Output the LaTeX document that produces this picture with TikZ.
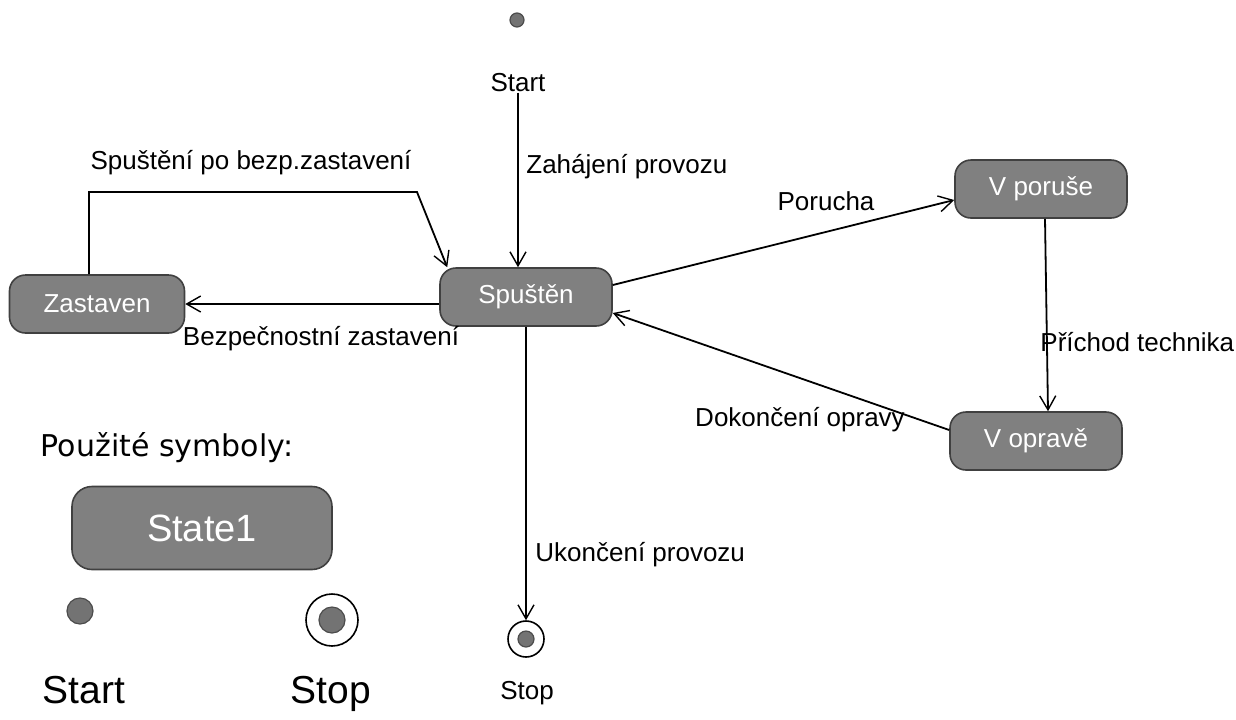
\documentclass[tikz,border=0pt]{standalone}
\usepackage{fontspec}
\setmainfont{Liberation Sans}
\newfontfamily\legendfont{DejaVu Sans}
\usetikzlibrary{arrows.meta}
\begin{document}
\begin{tikzpicture}[x=0.5pt,y=-0.5pt,
  state/.style={draw=black!75, line width=0.8pt, fill=black!50, rounded corners=8pt,
    text=white, font=\fontsize{13}{15}\selectfont, minimum width=86pt,
    minimum height=29pt, inner sep=0pt},
  arr/.style={draw, line width=0.9pt, -{Straight Barb[length=7pt,width=8pt,line width=0.7pt]}},
  lbl/.style={font=\fontsize{13}{15}\selectfont, inner sep=0pt},
  dot/.style={circle, draw=black!70, line width=0.6pt, fill=black!55, inner sep=0pt, minimum size=#1},
  ring/.style={circle, draw=black, line width=0.8pt, fill=white, inner sep=0pt, minimum size=#1}
]
\useasboundingbox (0,0) rectangle (1236,719);

% states
\node[state] (spusten) at (526,297) {Spuštěn};
\node[state, minimum width=87.5pt] (zastaven) at (97,304) {Zastaven};
\node[state] (poruse) at (1041,189) {V poruše};
\node[state] (oprava) at (1036,441) {V opravě};

% initial and final pseudo-states
\node[dot=7pt] (start) at (517,20) {};
\node[lbl] (startlbl) at (518,83) {Start};
\node[ring=18pt] (stop) at (526,639) {};
\node[dot=8pt] (stopin) at (stop) {};
\node[lbl] (stoplbl) at (527,693) {Stop};

% transitions
\draw[arr] (startlbl.south) -- (startlbl.south |- spusten.north);
\node[lbl, anchor=west] (lzah) at (526,167) {Zahájení provozu};

\draw[arr] (spusten.west |- zastaven.east) -- (zastaven.east);
\node[lbl] (lbez) at (321,339) {Bezpečnostní zastavení};

\coordinate (k1) at (89,192);
\coordinate (k2) at (417,192);
\draw[arr] (k1 |- zastaven.north) -- (k1) -- (k2) -- ([xshift=4pt]spusten.north west);
\node[lbl] (lspu) at (251,163) {Spuštění po bezp.zastavení};

\draw[arr] ([yshift=6pt]spusten.east) -- ([yshift=-5.5pt]poruse.west);
\node[lbl] (lpor) at (826,201) {Porucha};

\draw[arr] ([xshift=2pt]poruse.south) -- ([xshift=3.5pt]poruse.south |- oprava.north);
\node[lbl, anchor=west] (lpri) at (1040,342) {Příchod technika};

\draw[arr] ([yshift=5.5pt]oprava.west) -- ([yshift=-8pt]spusten.east);
\node[lbl] (ldok) at (800,420) {Dokončení opravy};

\draw[arr] (spusten.south) -- (stop.north);
\node[lbl, anchor=west] (lukon) at (535,555) {Ukončení provozu};

% legend
\node[font=\legendfont\fontsize{15}{18}\selectfont, inner sep=0pt] (legtitle) at (167,448) {Použité symboly:};
\node[state, minimum width=130pt, minimum height=41.5pt, rounded corners=10pt,
  font=\fontsize{19}{22}\selectfont] (legstate) at (202,528) {State1};
\node[dot=13pt] (legstart) at (80,611) {};
\node[font=\fontsize{19.5}{22}\selectfont, inner sep=0pt] (legstartlbl) at (84,690) {Start};
\node[ring=26pt] (legstop) at (332,620) {};
\node[dot=13pt] (legstopin) at (legstop) {};
\node[font=\fontsize{19.5}{22}\selectfont, inner sep=0pt] (legstoplbl) at (331,694) {Stop};
\end{tikzpicture}
\end{document}
